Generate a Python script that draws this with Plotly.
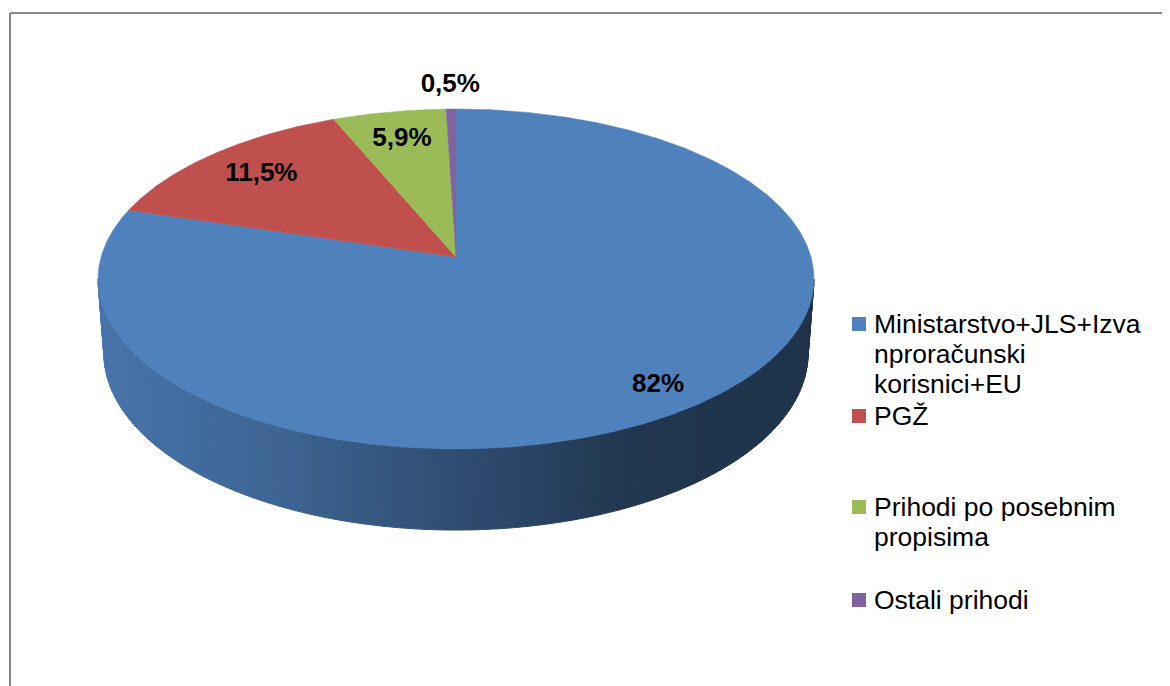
import numpy as np
import plotly.graph_objects as go

# ---------------- data ----------------
categories = [
    "Ministarstvo+JLS+Izva<br>nproračunski<br>korisnici+EU",
    "PGŽ",
    "Prihodi po posebnim<br>propisima",
    "Ostali prihodi",
]
values = [79.7, 14.0, 5.8, 0.5]            # slice sizes as drawn
label_texts = ["82%", "11,5%", "5,9%", "0,5%"]  # data labels as printed
colors = ["#4F81BD", "#C0504D", "#9BBB59", "#8064A2"]

# ---------------- layout / 3-D geometry constants ----------------
W, H = 1170, 686
PAGE_MARGIN = 8              # default body margin of the html page
CX, CY = 456.0, 257.0        # projected pie centre (pixels)
K = 2422.0                   # projection scale
D = 6.823                    # camera distance (pie radius = 1)
ALPHA = np.arcsin(0.4708)    # elevation of the view
S, C = np.sin(ALPHA), np.cos(ALPHA)
HGT = 0.24                   # pie thickness
label_r = [0.87, 0.79, 0.79, 1.18]
label_font = 26
legend_font = 26.5
legend_x_sw = 852
legend_x_txt = 872
legend_y = [324, 416, 507, 600]
line_step = 30


def project(X, Y, Z):
    depth = D + Y * C - Z * S
    px = CX + K * X / depth
    py = CY - K * (Y * S + Z * C) / depth
    return px, py


def shade(hexcol, f):
    h = hexcol.lstrip("#")
    r, g, b = (int(h[i:i + 2], 16) for i in (0, 2, 4))
    return "rgb(%d,%d,%d)" % (r * f, g * f, b * f)


total = float(sum(values))
bounds = np.concatenate([[0.0], np.cumsum(values)]) / total * 2 * np.pi

fig = go.Figure()

# ---- side wall (only the front part is visible) ----
vis_a = np.arccos(-C / D)
vis_b = 2 * np.pi - vis_a
half_w = K / np.sqrt(D ** 2 - C ** 2)
x_left = CX - half_w
for i, col in enumerate(colors):
    t0, t1 = max(bounds[i], vis_a), min(bounds[i + 1], vis_b)
    if t1 <= t0:
        continue
    nseg = max(2, int(np.degrees(t1 - t0) / 1.5))
    edges = np.linspace(t0, t1, nseg + 1)
    for a0, a1 in zip(edges[:-1], edges[1:]):
        th = np.linspace(a0, a1, 4)
        xt, yt = project(np.sin(th), np.cos(th), 0.0)
        xb, yb = project(np.sin(th[::-1]), np.cos(th[::-1]), -HGT)
        xs = np.concatenate([xt, xb, xt[:1]])
        ys = np.concatenate([yt, yb, yt[:1]])
        tpos = (np.mean(xt) - x_left) / (2 * half_w)
        f = np.interp(tpos, [0, 0.25, 0.5, 0.75, 1.0], [0.90, 0.78, 0.60, 0.42, 0.40])
        wc = shade(col, f)
        fig.add_trace(go.Scatter(
            x=xs, y=ys, mode="lines", fill="toself", fillcolor=wc,
            line=dict(color=wc, width=1), hoverinfo="skip", showlegend=False))

# ---- top faces ----
for i, col in enumerate(colors):
    n = max(3, int(np.degrees(bounds[i + 1] - bounds[i]) / 0.5))
    th = np.linspace(bounds[i], bounds[i + 1], n)
    xa, ya = project(np.sin(th), np.cos(th), 0.0)
    xs = np.concatenate([[CX], xa, [CX]])
    ys = np.concatenate([[CY], ya, [CY]])
    fig.add_trace(go.Scatter(
        x=xs, y=ys, mode="lines", fill="toself", fillcolor=col,
        line=dict(color=col, width=0.5), name=categories[i].replace("<br>", " "),
        hoverinfo="name", showlegend=False))

# ---- data labels ----
mids = (bounds[:-1] + bounds[1:]) / 2
lx, ly = project(np.sin(mids) * np.array(label_r), np.cos(mids) * np.array(label_r), 0.0)
fig.add_trace(go.Scatter(
    x=lx, y=ly, mode="text", text=label_texts,
    textfont=dict(family="Liberation Sans, Arial", size=label_font, color="black", weight="bold"),
    hoverinfo="skip", showlegend=False))

# ---- legend (drawn manually to match the original layout) ----
shapes = []
annotations = []
for i, (cat, col) in enumerate(zip(categories, colors)):
    y0 = legend_y[i]
    shapes.append(dict(type="rect", xref="x", yref="y",
                       x0=legend_x_sw, x1=legend_x_sw + 14, y0=y0 - 7, y1=y0 + 7,
                       fillcolor=col, line=dict(width=0)))
    for j, line in enumerate(cat.split("<br>")):
        annotations.append(dict(
            x=legend_x_txt, y=y0 + j * line_step, xref="x", yref="y",
            text=line, showarrow=False, xanchor="left", yanchor="middle",
            font=dict(family="Liberation Sans, Arial", size=legend_font, color="black")))

# ---- chart border ----
shapes.append(dict(type="line", xref="x", yref="y", x0=10, x1=W, y0=13, y1=13,
                   line=dict(color="#878787", width=2)))
shapes.append(dict(type="line", xref="x", yref="y", x0=10, x1=10, y0=13, y1=H,
                   line=dict(color="#878787", width=2)))

fig.update_layout(
    width=W - PAGE_MARGIN, height=H - PAGE_MARGIN,
    margin=dict(l=0, r=0, t=0, b=0),
    paper_bgcolor="white", plot_bgcolor="white",
    xaxis=dict(range=[PAGE_MARGIN, W], visible=False, fixedrange=True),
    yaxis=dict(range=[H, PAGE_MARGIN], visible=False, fixedrange=True),
    shapes=shapes, annotations=annotations,
    showlegend=False,
)

fig.write_html("out.html")
